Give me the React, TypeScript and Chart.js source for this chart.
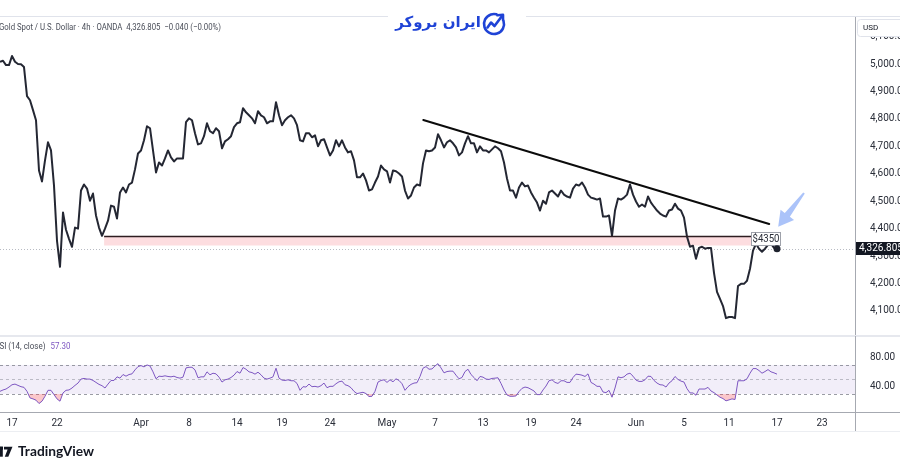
import React, { useEffect, useRef } from 'react';
import { Chart, registerables } from 'chart.js';

Chart.register(...registerables);

// ---- data (one value per sampled 4h bar) ----
const priceValues = [
  5008, 5012, 4996, 4996, 5029, 5008, 5000, 4999, 4989, 4883,
  4868, 4832, 4795, 4612, 4572, 4649, 4715, 4685, 4557, 4356,
  4261, 4459, 4396, 4363, 4334, 4404, 4400, 4539, 4561, 4546,
  4502, 4528, 4448, 4404, 4374, 4400, 4429, 4484, 4480, 4437,
  4532, 4550, 4532, 4561, 4568, 4616, 4674, 4685, 4722, 4773,
  4766, 4685, 4605, 4641, 4630, 4656, 4685, 4660, 4645, 4656,
  4656, 4656, 4788, 4802, 4795, 4748, 4707, 4711, 4737, 4784,
  4755, 4748, 4766, 4755, 4693, 4718, 4726, 4737, 4770, 4784,
  4788, 4839, 4824, 4813, 4802, 4784, 4828, 4813, 4806, 4784,
  4791, 4791, 4861, 4813, 4777, 4795, 4806, 4813, 4802, 4777,
  4722, 4718, 4748, 4748, 4733, 4740, 4700, 4722, 4726, 4696,
  4667, 4685, 4722, 4700, 4722, 4696, 4678, 4682, 4649, 4587,
  4587, 4601, 4576, 4539, 4543, 4568, 4590, 4630, 4616, 4609,
  4568, 4612, 4609, 4601, 4590, 4539, 4510, 4521, 4550, 4561,
  4557, 4638, 4685, 4682, 4685, 4696, 4744, 4722, 4696, 4715,
  4722, 4711, 4696, 4667, 4678, 4711, 4737, 4711, 4711, 4678,
  4700, 4685, 4685, 4678, 4689, 4700, 4693, 4682, 4641, 4583,
  4539, 4539, 4513, 4550, 4568, 4554, 4557, 4532, 4513, 4495,
  4466, 4502, 4491, 4532, 4539, 4528, 4517, 4539, 4524, 4517,
  4513, 4546, 4561, 4557, 4568, 4550, 4524, 4513, 4510, 4506,
  4510, 4444, 4444, 4448, 4374, 4466, 4510, 4506, 4513, 4524,
  4561, 4524, 4499, 4480, 4488, 4480, 4517, 4495, 4480, 4466,
  4455, 4448, 4444, 4466, 4470, 4491, 4473, 4466, 4440, 4371,
  4334, 4338, 4290, 4330, 4334, 4327, 4330, 4330, 4239, 4170,
  4144, 4118, 4074, 4078, 4078, 4074, 4191, 4199, 4199, 4210,
  4254, 4320, 4345, 4327, 4316, 4327, 4341, 4345, 4330, 4326.805,
];

const rsiValues = [
  33.6, 35.5, 36.8, 39.5, 42.7, 43.6, 41.8, 40.0, 39.1, 33.6,
  24.5, 23.2, 21.4, 16.8, 20.0, 26.8, 35.0, 35.0, 29.1, 23.2,
  20.0, 31.4, 35.0, 35.5, 38.2, 41.8, 45.0, 50.5, 51.4, 50.5,
  50.5, 48.6, 45.9, 43.2, 41.4, 38.2, 43.6, 48.6, 48.6, 53.6,
  51.8, 56.8, 54.5, 56.8, 57.7, 63.2, 67.7, 69.1, 67.3, 70.0,
  68.6, 60.5, 50.9, 54.5, 54.1, 55.0, 54.1, 53.6, 54.5, 52.7,
  51.8, 53.2, 65.9, 66.8, 66.8, 63.2, 52.3, 53.6, 53.6, 60.5,
  56.4, 58.6, 57.7, 53.2, 46.4, 49.5, 50.5, 52.7, 55.9, 60.9,
  58.6, 66.4, 64.1, 60.5, 59.5, 57.3, 60.0, 56.4, 51.8, 50.5,
  51.8, 53.6, 65.5, 51.8, 49.1, 48.6, 49.5, 48.2, 48.2, 44.5,
  35.0, 40.0, 39.5, 43.6, 40.0, 40.5, 39.5, 41.4, 45.0, 38.6,
  40.5, 40.5, 44.1, 46.8, 47.7, 42.7, 41.4, 38.6, 33.6, 30.5,
  31.4, 32.3, 30.5, 26.4, 26.8, 33.6, 46.4, 48.6, 49.5, 45.9,
  49.5, 46.8, 50.9, 48.6, 44.1, 35.0, 40.0, 43.2, 45.0, 45.5,
  54.1, 65.5, 67.7, 64.1, 64.5, 68.6, 71.8, 65.9, 59.1, 60.9,
  61.5, 61.4, 55.9, 50.9, 52.7, 60.9, 64.1, 56.8, 52.7, 48.2,
  54.1, 53.2, 50.5, 50.0, 51.4, 51.8, 52.3, 44.5, 35.5, 28.6,
  26.8, 26.8, 27.3, 33.2, 37.7, 39.5, 38.6, 36.4, 34.1, 29.1,
  29.1, 35.5, 40.9, 48.2, 49.5, 45.9, 44.5, 48.2, 48.2, 45.9,
  45.9, 52.7, 57.3, 56.8, 55.9, 54.1, 57.7, 45.9, 43.6, 40.5,
  40.5, 32.7, 31.8, 35.0, 25.5, 38.2, 53.6, 52.3, 53.6, 57.3,
  58.6, 54.5, 49.1, 47.3, 47.3, 49.5, 54.5, 54.1, 48.6, 45.0,
  42.7, 42.3, 39.5, 45.0, 48.2, 54.1, 50.0, 47.7, 46.4, 37.3,
  31.4, 31.4, 28.2, 36.8, 36.8, 36.8, 39.1, 34.1, 31.8, 28.6,
  25.5, 23.6, 20.5, 21.8, 23.2, 22.3, 48.2, 48.2, 48.2, 50.9,
  58.6, 65.0, 65.0, 62.3, 58.6, 60.9, 63.6, 60.5, 59.1, 57.3,
];

const timeTickBars = [4, 19, 47, 63, 79, 94, 110, 129, 145, 161, 177, 192, 212, 228, 243, 259, 274];
const timeTickLabels = ['17', '22', 'Apr', '8', '14', '19', '24', 'May', '7', '13', '19', '24', 'Jun', '5', '11', '17', '23'];
const priceTicks = [4100, 4200, 4300, 4400, 4500, 4600, 4700, 4800, 4900, 5000, 5100];
const rsiTicks = [40, 80];
const rsiLevels = [70, 50, 30];

const titleText = 'Gold Spot / U.S. Dollar · 4h · OANDA  4,326.805  −0.040 (−0.00%)';
const rsiTitle = 'RSI (14, close)';
const rsiLast = '57.30';
const lastPrice = 4326.805;
const supportZone = { from: 34.7, to: 250.5, top: 4371.5, bottom: 4338.7 };
const trendLine = { x1: 141.1, y1: 4796, x2: 256.4, y2: 4417 };
const priceTag = { x: 255.2, y: 4362.7, text: '$4350' };
const arrowMark = { tailX: 268, tailY: 4530, tipX: 259.4, tipY: 4407 };

// ---- layout constants ----
const X_MIN = 0, X_MAX = 285;
const PRICE_MIN = 4008.9, PRICE_MAX = 5171.3;
const RSI_MIN = 5.1, RSI_MAX = 108.55;
const AXIS_W = 45;
const FONT = 'Roboto, "Liberation Sans", sans-serif';
const TEXT = '#2a2e39';

function fmtPrice(v: number) {
  return v.toLocaleString('en-US', { minimumFractionDigits: 3, maximumFractionDigits: 3 });
}

function hline(ctx: any, x1: number, x2: number, y: number, color: string, w = 1) {
  ctx.strokeStyle = color; ctx.lineWidth = w;
  ctx.beginPath(); ctx.moveTo(x1, y); ctx.lineTo(x2, y); ctx.stroke();
}
function vline(ctx: any, x: number, y1: number, y2: number, color: string, w = 1) {
  ctx.strokeStyle = color; ctx.lineWidth = w;
  ctx.beginPath(); ctx.moveTo(x, y1); ctx.lineTo(x, y2); ctx.stroke();
}

const mainDecor = {
  id: 'mainDecor',
  beforeDraw(chart: any) {
    const ctx = chart.ctx;
    ctx.save(); ctx.fillStyle = '#ffffff'; ctx.fillRect(0, 0, chart.width, chart.height); ctx.restore();
  },
  beforeDatasetsDraw(chart: any) {
    const { ctx, chartArea: a, scales: { x, y } } = chart;
    ctx.save();
    const x1 = x.getPixelForValue(supportZone.from), x2 = x.getPixelForValue(supportZone.to);
    const yt = y.getPixelForValue(supportZone.top), yb = y.getPixelForValue(supportZone.bottom);
    ctx.fillStyle = 'rgba(242,54,69,0.17)';
    ctx.fillRect(x1, yt, x2 - x1, yb - yt);
    const yl = Math.round(y.getPixelForValue(lastPrice)) + 0.5;
    ctx.setLineDash([1, 2]);
    hline(ctx, a.left, a.right, yl, '#b8bbc3', 1);
    ctx.setLineDash([]);
    ctx.restore();
  },
  afterDatasetsDraw(chart: any) {
    const { ctx, scales: { x, y } } = chart;
    ctx.save();
    // support line
    const sx1 = x.getPixelForValue(supportZone.from), sx2 = x.getPixelForValue(supportZone.to);
    hline(ctx, sx1, sx2, y.getPixelForValue(supportZone.top), '#2e1d21', 1.5);
    // trend line
    ctx.strokeStyle = '#0b0b0b'; ctx.lineWidth = 2; ctx.lineCap = 'round';
    ctx.beginPath();
    ctx.moveTo(x.getPixelForValue(trendLine.x1), y.getPixelForValue(trendLine.y1));
    ctx.lineTo(x.getPixelForValue(trendLine.x2), y.getPixelForValue(trendLine.y2));
    ctx.stroke();
    // price tag
    const tx = x.getPixelForValue(priceTag.x), ty = y.getPixelForValue(priceTag.y);
    const bx = Math.round(tx - 14.5), by = Math.round(ty - 6.5);
    ctx.fillStyle = '#ffffff'; ctx.fillRect(bx, by, 29, 13);
    ctx.strokeStyle = '#9ea1aa'; ctx.lineWidth = 1; ctx.strokeRect(bx + 0.5, by + 0.5, 29, 13);
    ctx.fillStyle = TEXT; ctx.font = `10px ${FONT}`; ctx.textAlign = 'center'; ctx.textBaseline = 'middle';
    ctx.fillText(priceTag.text, bx + 15, by + 7.5, 27);
    // arrow marker
    const tip = { x: x.getPixelForValue(arrowMark.tipX), y: y.getPixelForValue(arrowMark.tipY) };
    const tail = { x: x.getPixelForValue(arrowMark.tailX), y: y.getPixelForValue(arrowMark.tailY) };
    const dx = tail.x - tip.x, dy = tail.y - tip.y, L = Math.hypot(dx, dy);
    const ux = dx / L, uy = dy / L, nx = -uy, ny = ux;
    const hl = 15, hw = 8.5, sw = 3.2, tw = 1;
    const base = { x: tip.x + ux * hl, y: tip.y + uy * hl };
    ctx.fillStyle = 'rgba(120,158,246,0.62)';
    ctx.beginPath();
    ctx.moveTo(tip.x, tip.y);
    ctx.lineTo(base.x + nx * hw, base.y + ny * hw);
    ctx.lineTo(base.x + nx * sw, base.y + ny * sw);
    ctx.lineTo(tail.x + nx * tw, tail.y + ny * tw);
    ctx.lineTo(tail.x - nx * tw, tail.y - ny * tw);
    ctx.lineTo(base.x - nx * sw, base.y - ny * sw);
    ctx.lineTo(base.x - nx * hw, base.y - ny * hw);
    ctx.closePath(); ctx.fill();
    // last point dot
    const meta = chart.getDatasetMeta(0);
    const lp = meta.data[meta.data.length - 1];
    ctx.fillStyle = '#1e222d';
    ctx.beginPath(); ctx.arc(lp.x, lp.y, 3.5, 0, Math.PI * 2); ctx.fill();
    ctx.restore();
  },
  afterDraw(chart: any) {
    const { ctx, chartArea: a, scales: { y } } = chart;
    ctx.save();
    // header line
    hline(ctx, 0, chart.width, 16.5, '#e0e3eb', 1);
    // axis border
    vline(ctx, a.right + 0.5, 17, chart.height, '#a6a9b1', 1);
    // pane separator
    hline(ctx, 0, chart.width, chart.height - 0.5, '#e6e8ee', 1);
    // USD box
    ctx.fillStyle = '#ffffff'; ctx.fillRect(857, 19, 45, 18);
    ctx.strokeStyle = '#e0e3eb'; ctx.lineWidth = 1;
    ctx.beginPath(); (ctx as any).roundRect(857.5, 19.5, 46, 17, 3); ctx.stroke();
    ctx.fillStyle = '#131722'; ctx.font = `8px ${FONT}`; ctx.textAlign = 'left'; ctx.textBaseline = 'middle';
    ctx.fillText('USD', 863, 28);
    // last price box
    const yl = y.getPixelForValue(lastPrice);
    ctx.fillStyle = '#131722'; ctx.fillRect(a.right + 1, Math.round(yl - 6.5), 44, 13);
    ctx.fillStyle = '#ffffff'; ctx.font = `10px ${FONT}`; ctx.textAlign = 'left'; ctx.textBaseline = 'middle';
    ctx.fillText(fmtPrice(lastPrice), a.right + 4, Math.round(yl - 6.5) + 6.8);
    // title
    ctx.fillStyle = '#4a4e59'; ctx.font = `9px ${FONT}`; ctx.textAlign = 'left'; ctx.textBaseline = 'middle';
    ctx.fillText(titleText, -1, 27.5, 222);
    // watermark logo
    ctx.fillStyle = '#ffffff'; ctx.fillRect(388, 4, 138, 36);
    const blue = '#1f43d6';
    ctx.fillStyle = blue; ctx.font = 'bold 15px "DejaVu Sans"'; ctx.textAlign = 'center'; ctx.textBaseline = 'middle';
    ctx.fillText('ایران بروکر', 438, 23, 88);
    ctx.strokeStyle = blue; ctx.lineWidth = 2.6; ctx.lineCap = 'round'; ctx.lineJoin = 'round';
    ctx.beginPath(); ctx.arc(494, 24, 10, -0.1 * Math.PI, 1.58 * Math.PI); ctx.stroke();
    ctx.beginPath();
    ctx.moveTo(487.5, 27.5); ctx.lineTo(491, 22.5); ctx.lineTo(494.5, 26); ctx.lineTo(502, 16);
    ctx.stroke();
    ctx.beginPath(); ctx.moveTo(497.5, 15.3); ctx.lineTo(503, 14.8); ctx.lineTo(503, 20); ctx.stroke();
    ctx.restore();
  },
};

const rsiDecor = {
  id: 'rsiDecor',
  beforeDraw(chart: any) {
    const ctx = chart.ctx;
    ctx.save(); ctx.fillStyle = '#ffffff'; ctx.fillRect(0, 0, chart.width, chart.height); ctx.restore();
  },
  beforeDatasetsDraw(chart: any) {
    const { ctx, chartArea: a, scales: { y } } = chart;
    ctx.save();
    const y70 = y.getPixelForValue(rsiLevels[0]), y30 = y.getPixelForValue(rsiLevels[2]);
    ctx.fillStyle = 'rgba(126,87,194,0.1)';
    ctx.fillRect(a.left, y70, a.right - a.left, y30 - y70);
    ctx.setLineDash([3, 3]);
    rsiLevels.forEach((lv, i) => {
      const yy = Math.round(y.getPixelForValue(lv)) + 0.5;
      hline(ctx, a.left, a.right, yy, i === 1 ? 'rgba(120,123,134,0.45)' : 'rgba(120,123,134,0.75)', 1);
    });
    ctx.setLineDash([]);
    ctx.restore();
  },
  afterDraw(chart: any) {
    const { ctx, chartArea: a } = chart;
    ctx.save();
    hline(ctx, 0, chart.width, 0.5, '#e6e8ee', 1);
    hline(ctx, 0, chart.width, Math.round(a.bottom) + 0.5, '#a6a9b1', 1);
    vline(ctx, a.right + 0.5, 0, 96, '#a6a9b1', 1);
    hline(ctx, 0, chart.width, 95.5, '#eceef2', 1);
    // RSI title
    ctx.font = `9px ${FONT}`; ctx.textAlign = 'left'; ctx.textBaseline = 'middle';
    ctx.fillStyle = '#4a4e59'; ctx.fillText(rsiTitle, -5.5, 10.5, 51);
    ctx.fillStyle = '#7e57c2'; ctx.fillText(rsiLast, 50.5, 10.5, 20);
    // TradingView logo
    ctx.fillStyle = '#131722';
    ctx.fillRect(-4, 110.7, 7, 3);
    ctx.fillRect(0, 110.7, 2.8, 10);
    ctx.beginPath();
    ctx.moveTo(4, 110.7); ctx.lineTo(12.5, 110.7); ctx.lineTo(8.3, 120.7); ctx.lineTo(4.8, 120.7);
    ctx.lineTo(7.6, 113.6); ctx.lineTo(4, 113.6); ctx.closePath(); ctx.fill();
    ctx.font = `bold 14px Lato, ${FONT}`; ctx.textBaseline = 'middle';
    ctx.fillText('TradingView', 18, 115.8, 76);
    ctx.restore();
  },
};

export default function App() {
  const mainRef = useRef<HTMLCanvasElement>(null);
  const rsiRef = useRef<HTMLCanvasElement>(null);

  useEffect(() => {
    document.body.style.margin = '0';
    const pricePts = priceValues.map((v, i) => ({ x: i, y: v }));
    const rsiPts = rsiValues.map((v, i) => ({ x: i, y: v }));
    const tickFont = { family: FONT, size: 10 };

    const main = new Chart(mainRef.current as HTMLCanvasElement, {
      type: 'line',
      data: {
        datasets: [{
          data: pricePts, borderColor: '#242733', borderWidth: 2, pointRadius: 0,
          tension: 0, fill: false, borderJoinStyle: 'round',
        } as any],
      },
      options: {
        responsive: false, animation: false, events: [],
        layout: { padding: { top: 17, left: 0, right: 0, bottom: 0 } },
        plugins: { legend: { display: false }, tooltip: { enabled: false } },
        scales: {
          x: { type: 'linear', min: X_MIN, max: X_MAX, display: false },
          y: {
            type: 'linear', position: 'right', min: PRICE_MIN, max: PRICE_MAX,
            grid: { display: false }, border: { display: false },
            afterBuildTicks: (s: any) => { s.ticks = priceTicks.map((v) => ({ value: v })); },
            afterFit: (s: any) => { s.width = AXIS_W; s.paddingTop = 0; s.paddingBottom = 0; },
            ticks: { padding: 7, color: TEXT, font: tickFont, callback: (v: any) => fmtPrice(Number(v)) },
          },
        },
      } as any,
      plugins: [mainDecor],
    });

    const rsi = new Chart(rsiRef.current as HTMLCanvasElement, {
      type: 'line',
      data: {
        datasets: [
          {
            data: rsiPts, borderColor: '#7e57c2', borderWidth: 1, pointRadius: 0, tension: 0,
            fill: { target: { value: 30 }, above: 'rgba(0,0,0,0)', below: 'rgba(242,54,69,0.28)' },
          } as any,
          {
            data: rsiPts, borderColor: 'rgba(0,0,0,0)', borderWidth: 0, pointRadius: 0, tension: 0,
            fill: { target: { value: 70 }, above: 'rgba(8,153,129,0.28)', below: 'rgba(0,0,0,0)' },
          } as any,
        ],
      },
      options: {
        responsive: false, animation: false, events: [],
        layout: { padding: { top: 1, left: 0, right: 0, bottom: 39 } },
        plugins: { legend: { display: false }, tooltip: { enabled: false } },
        scales: {
          x: {
            type: 'linear', position: 'bottom', min: X_MIN, max: X_MAX,
            grid: { display: false, drawTicks: false }, border: { display: false },
            afterBuildTicks: (s: any) => { s.ticks = timeTickBars.map((v) => ({ value: v })); },
            afterFit: (s: any) => { s.height = 20; s.paddingLeft = 0; s.paddingRight = 0; },
            ticks: {
              autoSkip: false, maxRotation: 0, minRotation: 0, padding: 5, color: TEXT, font: tickFont,
              callback: (_v: any, i: number) => timeTickLabels[i],
            },
          },
          y: {
            type: 'linear', position: 'right', min: RSI_MIN, max: RSI_MAX,
            grid: { display: false }, border: { display: false },
            afterBuildTicks: (s: any) => { s.ticks = rsiTicks.map((v) => ({ value: v })); },
            afterFit: (s: any) => { s.width = AXIS_W; s.paddingTop = 0; s.paddingBottom = 0; },
            ticks: { padding: 7, color: TEXT, font: tickFont, callback: (v: any) => Number(v).toFixed(2) },
          },
        },
      } as any,
      plugins: [rsiDecor],
    });

    return () => { main.destroy(); rsi.destroy(); };
  }, []);

  return (
    <div style={{ position: 'fixed', left: 0, top: 0, width: 900, height: 471, background: '#ffffff' }}>
      <canvas ref={mainRef} width={900} height={336}
        style={{ position: 'absolute', left: 0, top: 0, width: 900, height: 336 }} />
      <canvas ref={rsiRef} width={900} height={135}
        style={{ position: 'absolute', left: 0, top: 336, width: 900, height: 135 }} />
    </div>
  );
}
